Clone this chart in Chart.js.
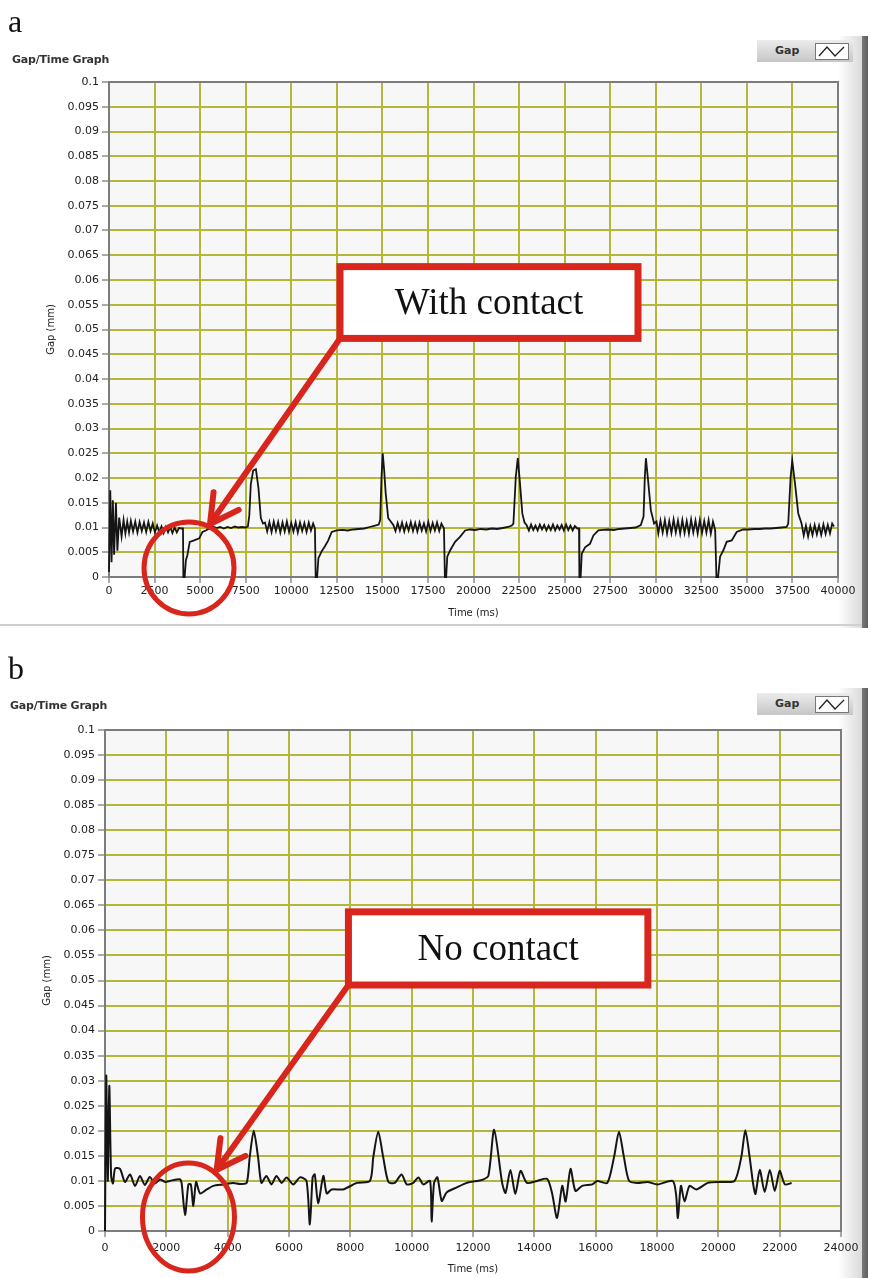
<!DOCTYPE html>
<html lang="en">
<head>
<meta charset="UTF-8">
<title>Gap/Time Graph</title>
<script src="https://cdn.jsdelivr.net/npm/chart.js"></script>
<style>
    body { margin: 0; background: #fff; }
    #page { position: relative; width: 871px; height: 1278px; overflow: hidden; background: #fff; }
    canvas { position: absolute; left: 0; }
    .letter { position: absolute; left: 8px; font: 32px "Liberation Serif", serif; line-height: 1; color: #111; }
    .gtitle { position: absolute; left: 12px; font: bold 11px "DejaVu Sans", sans-serif; color: #333; letter-spacing: -0.2px; }
    .legend { position: absolute; left: 757px; width: 96px; height: 22px; background: linear-gradient(#ececec, #c6c6c6); }
    .legend span { position: absolute; left: 18px; top: 4px; font: bold 11px "DejaVu Sans", sans-serif; color: #333; }
    .legend svg { position: absolute; left: 58px; top: 3px; }
    .rbar { position: absolute; left: 838px; width: 30px; background: linear-gradient(to right, #ffffff 0px, #dadada 24px, #7a7a7a 24px, #5e5e5e 30px); }
    .bline { position: absolute; left: 0; width: 862px; height: 2px; background: #cfcfcf; }
</style>
</head>
<body>
<div id="page">
    <div class="rbar" style="top:36px;height:592px"></div>
    <div class="bline" style="top:624px"></div>
    <div class="rbar" style="top:688px;height:590px"></div>

    <canvas id="chartA" width="871" height="640" style="top:0"></canvas>
    <canvas id="chartB" width="871" height="638" style="top:640px"></canvas>

    <div class="letter" style="top:5px">a</div>
    <div class="gtitle" style="top:53px">Gap/Time Graph</div>
    <div class="legend" style="top:40px"><span>Gap</span>
        <svg width="34" height="17"><rect x="0.5" y="0.5" width="33" height="16" fill="#fff" stroke="#777"/><polyline points="4,13 12,4 20,13 29,4" fill="none" stroke="#222" stroke-width="1.3"/></svg>
    </div>

    <div class="letter" style="top:652px">b</div>
    <div class="gtitle" style="top:699px;left:10px">Gap/Time Graph</div>
    <div class="legend" style="top:693px"><span>Gap</span>
        <svg width="34" height="17"><rect x="0.5" y="0.5" width="33" height="16" fill="#fff" stroke="#777"/><polyline points="4,13 12,4 20,13 29,4" fill="none" stroke="#222" stroke-width="1.3"/></svg>
    </div>
</div>

<script>
// panel a: with contact (time in ms, gap in mm)
const timeA = [
    0, 70, 140, 210, 280, 380, 460, 560, 690, 800,
    900, 1000, 1100, 1200, 1320, 1440, 1560, 1680, 1800, 1920,
    2040, 2160, 2280, 2400, 2520, 2640, 2760, 2880, 3000, 3120,
    3240, 3360, 3480, 3600, 3720, 3840, 3960, 4060, 4080, 4150,
    4220, 4300, 4430, 4670, 4950, 5130, 5310, 5500, 5700, 5900,
    6100, 6300, 6500, 6700, 6900, 7100, 7300, 7500, 7620, 7700,
    7780, 7910, 8060, 8200, 8330, 8450, 8560, 8680, 8800, 8920,
    9040, 9160, 9280, 9400, 9520, 9640, 9760, 9880, 10000, 10120,
    10240, 10360, 10480, 10600, 10720, 10840, 10960, 11080, 11200, 11300,
    11340, 11420, 11490, 11670, 11850, 12030, 12220, 12490, 12800, 13100,
    13400, 13700, 14000, 14300, 14600, 14800, 14880, 14950, 15020, 15100,
    15180, 15320, 15460, 15600, 15720, 15840, 15960, 16080, 16200, 16320,
    16440, 16560, 16680, 16800, 16920, 17040, 17160, 17280, 17400, 17520,
    17640, 17760, 17880, 18000, 18120, 18240, 18380, 18430, 18500, 18560,
    18720, 18990, 19260, 19540, 19810, 20100, 20400, 20700, 21000, 21300,
    21600, 21900, 22100, 22190, 22320, 22430, 22550, 22680, 22800, 22910,
    23040, 23160, 23280, 23400, 23520, 23640, 23760, 23880, 24000, 24120,
    24240, 24360, 24480, 24600, 24720, 24840, 24960, 25080, 25200, 25320,
    25440, 25560, 25700, 25790, 25810, 25880, 25940, 26120, 26390, 26580,
    26850, 27100, 27400, 27700, 28000, 28300, 28600, 28900, 29180, 29330,
    29400, 29460, 29580, 29730, 29910, 30040, 30140, 30260, 30380, 30500,
    30620, 30740, 30860, 30980, 31100, 31220, 31340, 31460, 31580, 31700,
    31820, 31940, 32060, 32180, 32300, 32420, 32540, 32660, 32780, 32900,
    33020, 33140, 33260, 33330, 33420, 33530, 33710, 33890, 34170, 34440,
    34800, 35100, 35400, 35700, 36000, 36300, 36600, 36900, 37180, 37270,
    37400, 37490, 37640, 37820, 38000, 38120, 38240, 38360, 38480, 38600,
    38720, 38840, 38960, 39080, 39200, 39320, 39440, 39560, 39680, 39780
];
const gapA = [
    0.001, 0.0175, 0.003, 0.0155, 0.0045, 0.015, 0.0053, 0.012, 0.0082, 0.0115,
    0.0088, 0.0112, 0.009, 0.0113, 0.0092, 0.0112, 0.009, 0.0111, 0.0093, 0.011,
    0.0091, 0.0111, 0.0093, 0.0108, 0.009, 0.0104, 0.009, 0.0102, 0.0089, 0.0101,
    0.009, 0.0101, 0.0089, 0.01, 0.009, 0.0099, 0.0098, 0.0098, 0, 0,
    0.0034, 0.0044, 0.0071, 0.0074, 0.0078, 0.0091, 0.0094, 0.0098, 0.0102, 0.0099,
    0.0101, 0.0098, 0.0101, 0.0099, 0.0102, 0.01, 0.0101, 0.01, 0.0102, 0.0125,
    0.0187, 0.0215, 0.0218, 0.018, 0.0119, 0.0108, 0.011, 0.0092, 0.0111, 0.0091,
    0.0112, 0.0093, 0.0111, 0.009, 0.011, 0.0092, 0.0112, 0.0091, 0.0109, 0.0092,
    0.0111, 0.009, 0.011, 0.0093, 0.0109, 0.0091, 0.011, 0.0094, 0.0108, 0.0098,
    0, 0, 0.0038, 0.0052, 0.0062, 0.0074, 0.0091, 0.0094, 0.0095, 0.0094,
    0.0096, 0.0097, 0.0098, 0.0101, 0.0104, 0.0106, 0.0115, 0.02, 0.025, 0.0215,
    0.017, 0.0119, 0.0112, 0.0105, 0.0093, 0.0109, 0.0094, 0.011, 0.0092, 0.0108,
    0.0094, 0.0111, 0.0093, 0.0109, 0.0092, 0.011, 0.0094, 0.0108, 0.0092, 0.0111,
    0.0093, 0.0109, 0.0094, 0.011, 0.0093, 0.0108, 0.0098, 0, 0, 0.0041,
    0.0054, 0.0071, 0.0081, 0.0094, 0.0096, 0.0095, 0.0097, 0.0096, 0.0098, 0.0097,
    0.0099, 0.0101, 0.0104, 0.0108, 0.0202, 0.024, 0.0189, 0.0128, 0.011, 0.0105,
    0.0094, 0.0106, 0.0095, 0.0104, 0.0094, 0.0106, 0.0096, 0.0105, 0.0094, 0.0104,
    0.0095, 0.0106, 0.0094, 0.0104, 0.0096, 0.0105, 0.0094, 0.0106, 0.0095, 0.0104,
    0.0094, 0.0103, 0.0098, 0.0098, 0, 0, 0.0047, 0.006, 0.0067, 0.0084,
    0.0094, 0.0095, 0.0096, 0.0095, 0.0097, 0.0098, 0.0099, 0.01, 0.0105, 0.0122,
    0.0202, 0.024, 0.0195, 0.0135, 0.0108, 0.0112, 0.0088, 0.0114, 0.009, 0.0115,
    0.0088, 0.0113, 0.0089, 0.0116, 0.009, 0.0114, 0.0088, 0.0115, 0.0089, 0.0113,
    0.0088, 0.0116, 0.009, 0.0114, 0.0088, 0.0115, 0.0089, 0.0113, 0.009, 0.0115,
    0.0088, 0.0112, 0.0095, 0, 0, 0.0041, 0.0054, 0.0071, 0.0074, 0.0091,
    0.0096, 0.0096, 0.0097, 0.0097, 0.0098, 0.0098, 0.0099, 0.01, 0.0101, 0.0108,
    0.0202, 0.0235, 0.0189, 0.0128, 0.0108, 0.0084, 0.0104, 0.0082, 0.0103, 0.0085,
    0.0105, 0.0086, 0.0104, 0.0085, 0.0106, 0.0087, 0.0105, 0.0088, 0.0108, 0.0102
];

// panel b: no contact
const timeB = [
    0, 40, 90, 140, 200, 260, 330, 490, 650, 815,
    980, 1140, 1300, 1460, 1620, 1790, 1960, 2120, 2340, 2450,
    2500, 2610, 2720, 2800, 2880, 2970, 3100, 3320, 3530, 3860,
    4180, 4400, 4620, 4720, 4850, 4990, 5100, 5260, 5430, 5590,
    5760, 5920, 6140, 6360, 6570, 6680, 6770, 6840, 6950, 7120,
    7230, 7390, 7770, 8210, 8640, 8750, 8910, 9070, 9240, 9450,
    9670, 9840, 10050, 10220, 10380, 10600, 10650, 10730, 10840, 10980,
    11140, 11470, 11800, 12120, 12300, 12500, 12690, 12950, 13060, 13220,
    13380, 13550, 13760, 14090, 14420, 14580, 14740, 14910, 15020, 15180,
    15340, 15560, 15890, 16050, 16380, 16600, 16760, 16920, 17090, 17360,
    17690, 18020, 18510, 18620, 18680, 18780, 18900, 19060, 19280, 19660,
    20100, 20530, 20750, 20880, 21020, 21130, 21210, 21350, 21510, 21680,
    21840, 22000, 22170, 22390
];
const gapB = [
    0, 0.031, 0.01, 0.029, 0.011, 0.0095, 0.0125, 0.0124, 0.0098, 0.0113,
    0.009, 0.011, 0.0092, 0.0108, 0.0095, 0.0103, 0.0098, 0.01, 0.0103, 0.0103,
    0.0095, 0.0032, 0.0093, 0.0093, 0.005, 0.0098, 0.0075, 0.0083, 0.009, 0.0093,
    0.0096, 0.0094, 0.0096, 0.0148, 0.02, 0.0148, 0.0096, 0.011, 0.0093, 0.011,
    0.0096, 0.0107, 0.0093, 0.0107, 0.01, 0.0013, 0.0107, 0.0113, 0.0055, 0.011,
    0.0075, 0.0083, 0.0083, 0.0096, 0.01, 0.0148, 0.0198, 0.0148, 0.0098, 0.0096,
    0.0113, 0.0093, 0.0096, 0.0107, 0.0093, 0.01, 0.0019, 0.0096, 0.0107, 0.006,
    0.0077, 0.0087, 0.0096, 0.01, 0.0102, 0.011, 0.0202, 0.0096, 0.0076, 0.0122,
    0.0074, 0.012, 0.0096, 0.01, 0.0104, 0.0075, 0.0026, 0.009, 0.0059, 0.0124,
    0.008, 0.009, 0.0093, 0.01, 0.0096, 0.0148, 0.0198, 0.0148, 0.01, 0.0096,
    0.0098, 0.0093, 0.01, 0.0074, 0.0026, 0.009, 0.0059, 0.009, 0.0083, 0.0096,
    0.0098, 0.01, 0.0148, 0.0201, 0.0148, 0.0096, 0.0074, 0.0122, 0.0078, 0.0122,
    0.008, 0.012, 0.0093, 0.0096
];

const xTicksA = [0, 2500, 5000, 7500, 10000, 12500, 15000, 17500, 20000, 22500, 25000, 27500, 30000, 32500, 35000, 37500, 40000];
const xTicksB = [0, 2000, 4000, 6000, 8000, 10000, 12000, 14000, 16000, 18000, 20000, 22000, 24000];
const yTicks = [0, 0.005, 0.01, 0.015, 0.02, 0.025, 0.03, 0.035, 0.04, 0.045, 0.05, 0.055, 0.06, 0.065, 0.07, 0.075, 0.08, 0.085, 0.09, 0.095, 0.1];

const GRID = '#b5b73a';
const RED = '#d8261d';

// plot background + frame
const plotFrame = {
    id: 'plotFrame',
    beforeDraw(chart) {
        const { ctx, chartArea: a } = chart;
        ctx.save();
        ctx.fillStyle = '#f7f7f7';
        ctx.fillRect(a.left, a.top, a.right - a.left, a.bottom - a.top);
        ctx.restore();
    },
    beforeDatasetsDraw(chart) {
        const { ctx, chartArea: a } = chart;
        ctx.save();
        ctx.strokeStyle = '#7c7c7c';
        ctx.lineWidth = 2;
        ctx.strokeRect(a.left, a.top, a.right - a.left, a.bottom - a.top);
        ctx.restore();
    }
};

// red label box, arrow and ring, anchored in data units
const callout = {
    id: 'callout',
    afterDraw(chart, args, o) {
        if (!o.text) return;
        const { ctx, scales: { x, y } } = chart;
        const px = v => x.getPixelForValue(v);
        const py = v => y.getPixelForValue(v);
        ctx.save();
        ctx.strokeStyle = RED;

        // ring
        ctx.lineWidth = 5;
        ctx.beginPath();
        ctx.ellipse(px(o.ring[0]), py(o.ring[1]), o.rx, o.ry, 0, 0, Math.PI * 2);
        ctx.stroke();

        // arrow
        const sx = px(o.box[0]), sy = py(o.box[3]);
        const tx = px(o.tip[0]), ty = py(o.tip[1]);
        const ang = Math.atan2(sy - ty, sx - tx);
        ctx.lineWidth = 6;
        ctx.lineCap = 'round';
        ctx.beginPath();
        ctx.moveTo(sx, sy);
        ctx.lineTo(tx, ty);
        ctx.moveTo(tx + 32 * Math.cos(ang - 0.5), ty + 32 * Math.sin(ang - 0.5));
        ctx.lineTo(tx, ty);
        ctx.lineTo(tx + 32 * Math.cos(ang + 0.5), ty + 32 * Math.sin(ang + 0.5));
        ctx.stroke();

        // box
        const bx1 = px(o.box[0]), bx2 = px(o.box[1]);
        const by1 = py(o.box[2]), by2 = py(o.box[3]);
        ctx.fillStyle = '#fff';
        ctx.fillRect(bx1, by1, bx2 - bx1, by2 - by1);
        ctx.lineWidth = 7;
        ctx.lineCap = 'butt';
        ctx.strokeRect(bx1, by1, bx2 - bx1, by2 - by1);
        ctx.fillStyle = '#111';
        ctx.font = '37px "Liberation Serif", serif';
        ctx.textAlign = 'center';
        ctx.textBaseline = 'middle';
        ctx.fillText(o.text, (bx1 + bx2) / 2, (by1 + by2) / 2 + 2);
        ctx.restore();
    }
};

function makeChart(id, xs, ys, xTicks, cfg) {
    const points = xs.map((t, i) => ({ x: t, y: ys[i] }));
    return new Chart(document.getElementById(id), {
        type: 'line',
        data: {
            datasets: [{
                label: 'Gap',
                data: points,
                borderColor: '#151515',
                borderWidth: cfg.lineWidth,
                pointRadius: 0,
                tension: cfg.tension,
                clip: 3
            }]
        },
        options: {
            responsive: false,
            animation: false,
            devicePixelRatio: 1,
            layout: { padding: cfg.padding },
            plugins: {
                legend: { display: false },
                tooltip: { enabled: false },
                callout: cfg.callout
            },
            scales: {
                x: {
                    type: 'linear',
                    min: xTicks[0],
                    max: xTicks[xTicks.length - 1],
                    afterBuildTicks: s => { s.ticks = xTicks.map(v => ({ value: v })); },
                    afterFit: s => { s.height = cfg.xHeight; },
                    ticks: {
                        callback: v => String(v),
                        font: { family: 'DejaVu Sans', size: 11 },
                        color: '#222',
                        maxRotation: 0,
                        autoSkip: false,
                        padding: cfg.xPad
                    },
                    grid: { color: GRID, lineWidth: 2, tickColor: '#555', tickLength: 6, tickWidth: 1 },
                    border: { display: false },
                    title: {
                        display: true,
                        text: 'Time (ms)',
                        font: { family: 'DejaVu Sans', size: 10 },
                        color: '#222',
                        padding: { top: 0, bottom: cfg.xTitlePad }
                    }
                },
                y: {
                    min: 0,
                    max: 0.1,
                    afterBuildTicks: s => { s.ticks = yTicks.map(v => ({ value: v })); },
                    afterFit: s => { s.width = cfg.yWidth; },
                    ticks: {
                        callback: v => String(v),
                        font: { family: 'DejaVu Sans', size: 11 },
                        color: '#222',
                        padding: 3
                    },
                    grid: { color: GRID, lineWidth: 2, tickColor: '#555', tickLength: 7, tickWidth: 1 },
                    border: { display: false },
                    title: {
                        display: true,
                        text: 'Gap (mm)',
                        font: { family: 'DejaVu Sans', size: 10 },
                        color: '#222',
                        padding: { top: cfg.yTitlePad, bottom: 0 }
                    }
                }
            }
        },
        plugins: [plotFrame, callout]
    });
}

makeChart('chartA', timeA, gapA, xTicksA, {
    tension: 0, lineWidth: 1.8,
    padding: { top: 82, right: 33, bottom: 13, left: 0 },
    xHeight: 50, xPad: 2, xTitlePad: 8,
    yWidth: 109, yTitlePad: 45,
    callout: {
        text: 'With contact',
        box: [12675, 29026, 0.0627, 0.0482],
        tip: [5542, 0.0107],
        ring: [4390, 0.0018], rx: 45, ry: 46
    }
});

makeChart('chartB', timeB, gapB, xTicksB, {
    tension: 0.25, lineWidth: 2,
    padding: { top: 90, right: 30, bottom: 2, left: 0 },
    xHeight: 45, xPad: 5, xTitlePad: 1,
    yWidth: 105, yTitlePad: 41,
    callout: {
        text: 'No contact',
        box: [7938, 17702, 0.0637, 0.0491],
        tip: [3641, 0.0122],
        ring: [2722, 0.0028], rx: 46, ry: 54
    }
});
</script>
</body>
</html>
